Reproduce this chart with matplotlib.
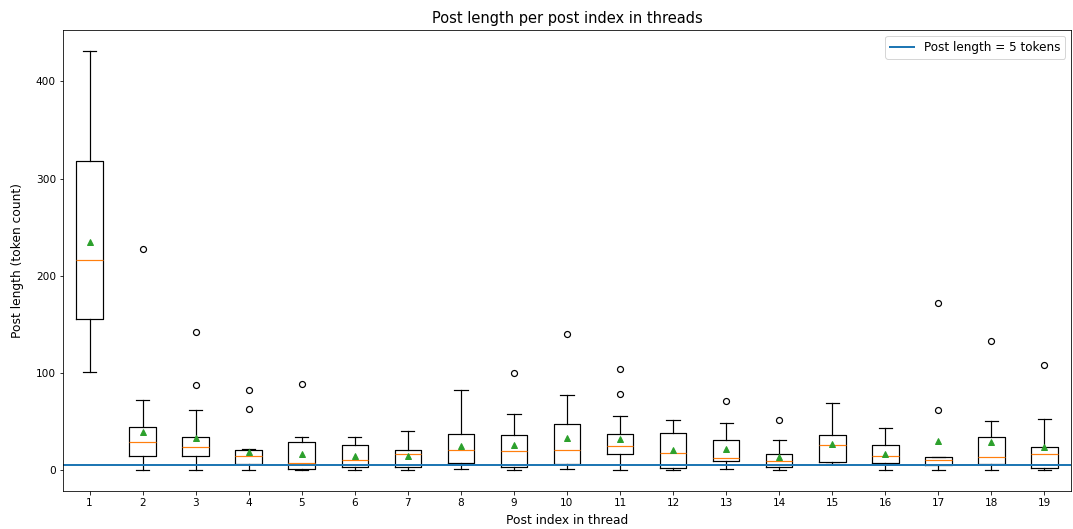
import matplotlib
matplotlib.use("Agg")
import matplotlib.pyplot as plt

positions = list(range(1, 20))
tick_labels = [str(p) for p in positions]

whislo = [101, 0, 0, 0, 0, 0, 0, 1, 0, 1, 0, 0, 1, 0, 6, 0, 0, 0, 0]
q1     = [155, 14, 14, 6, 1, 3, 3, 7, 3, 6, 16, 2, 9, 3, 8, 7, 5, 6, 2]
median = [216, 29, 24, 14, 7, 10, 17, 21, 20, 21, 25, 18, 12, 9, 26, 14, 10, 13, 16]
q3     = [318, 44, 34, 21, 29, 26, 21, 37, 36, 47, 37, 38, 31, 16, 36, 26, 13, 34, 24]
whishi = [431, 72, 62, 22, 34, 34, 40, 82, 58, 77, 56, 52, 48, 31, 69, 43, 13, 50, 53]
means  = [235, 39, 33, 19, 17, 14, 14, 25, 26, 33, 32, 21, 22, 13, 27, 17, 30, 29, 24]
fliers = [[], [228], [142, 88], [82, 63], [89], [], [], [], [100], [140],
          [104, 78], [], [71], [52], [], [], [172, 62], [133], [108]]

threshold = 5

stats = []
for i in range(len(positions)):
    stats.append(dict(whislo=whislo[i], q1=q1[i], med=median[i], q3=q3[i],
                      whishi=whishi[i], mean=means[i], fliers=fliers[i],
                      label=tick_labels[i]))

W, H = 1073, 529
fig = plt.figure(figsize=(W / 72, H / 72), dpi=72)
ax = fig.add_axes([63 / W, 1 - 491 / H, (1071 - 63) / W, (491 - 30) / H])

lw = 1.2
ax.bxp(stats, positions=positions, showmeans=True,
       boxprops=dict(linewidth=lw), whiskerprops=dict(linewidth=lw),
       capprops=dict(linewidth=lw), medianprops=dict(linewidth=lw, color="#ff7f0e"),
       flierprops=dict(markeredgewidth=1.2))
ax.axhline(threshold, color="#1f77b4", linewidth=2, label="Post length = 5 tokens")
ax.set_title("Post length per post index in threads", fontsize=14.6, pad=7)
ax.set_xlabel("Post index in thread", fontsize=12.2, labelpad=6)
ax.set_ylabel("Post length (token count)", fontsize=12.2, labelpad=12)
ax.tick_params(labelsize=10.5)
ax.set_ylim(-21.6, 453)
ax.legend(loc="upper right", fontsize=12)

fig.savefig("out.png", dpi=72)
